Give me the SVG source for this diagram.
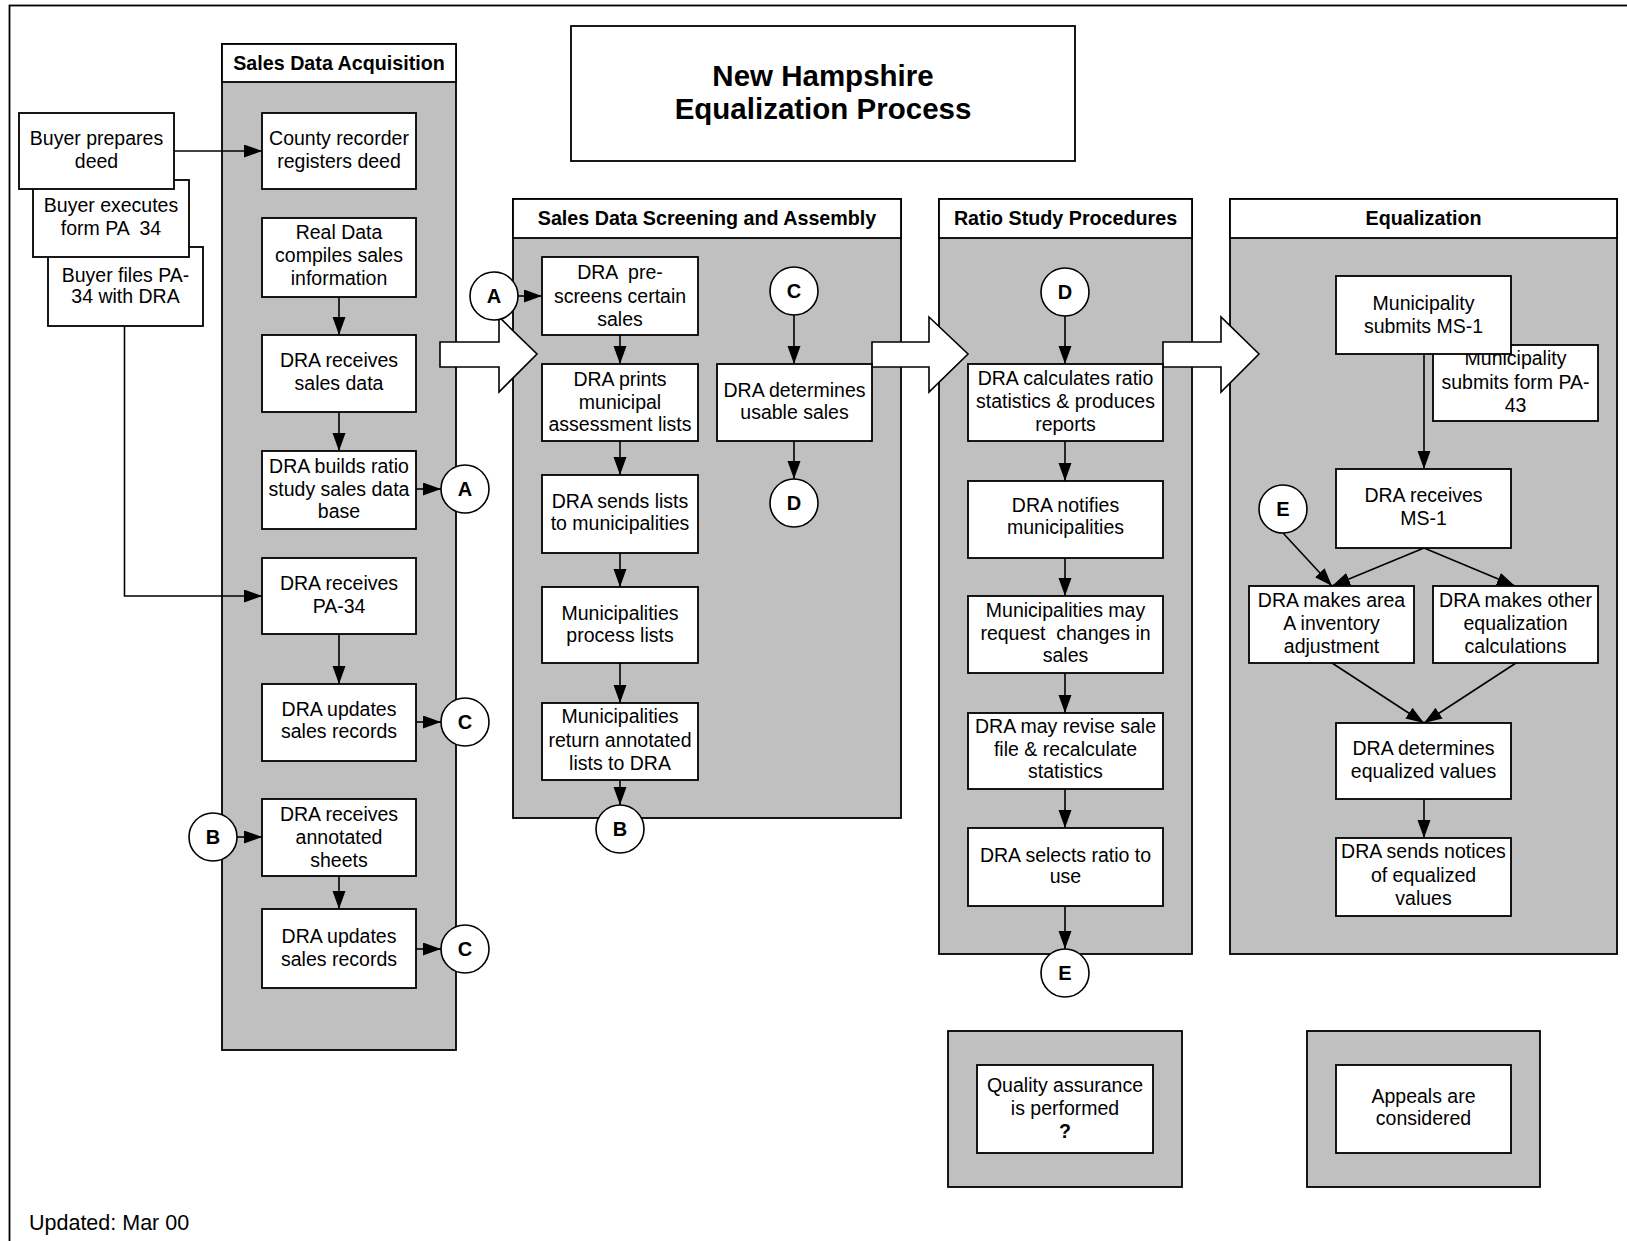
<svg xmlns="http://www.w3.org/2000/svg" width="1627" height="1241" viewBox="0 0 1627 1241">
<defs>
<style>
text{font-family:"Liberation Sans",Arial,sans-serif;fill:#000}
.t{font-size:19.5px;text-anchor:middle}
.h{font-size:19.7px;font-weight:bold;text-anchor:middle}
.c{font-size:20px;font-weight:bold;text-anchor:middle}
.box{fill:#fff;stroke:#000;stroke-width:1.8}
.lane{fill:#c0c0c0;stroke:#000;stroke-width:1.8}
.hdr{fill:#fff;stroke:#000;stroke-width:1.8}
.conn{fill:none;stroke:#000;stroke-width:1.6}
.circ{fill:#fff;stroke:#000;stroke-width:1.6}
.blk{fill:#fff;stroke:#000;stroke-width:1.6}
</style>
<marker id="ah" markerUnits="userSpaceOnUse" markerWidth="19" markerHeight="14" refX="18" refY="6.5" orient="auto">
<path d="M0,0 L18,6.5 L0,13 z" fill="#000"/>
</marker>
</defs>
<rect x="0" y="0" width="1627" height="1241" fill="#fff"/>
<rect x="9.5" y="5.5" width="1700" height="1300" fill="none" stroke="#000" stroke-width="1.8"/>

<g id="title">
<rect class="box" x="571" y="26" width="504" height="135"/>
<text x="823" y="86" font-size="29.5" font-weight="bold" text-anchor="middle">New Hampshire</text>
<text x="823" y="119" font-size="29.5" font-weight="bold" text-anchor="middle">Equalization Process</text>
</g>

<g id="lane-acquisition">
<rect class="lane" x="222" y="44" width="234" height="1006"/>
<rect class="hdr" x="222" y="44" width="234" height="38"/>
<text class="h" x="339" y="70">Sales Data Acquisition</text>
</g>
<g id="lane-screening">
<rect class="lane" x="513" y="199" width="388" height="619"/>
<rect class="hdr" x="513" y="199" width="388" height="39"/>
<text class="h" x="707" y="225">Sales Data Screening and Assembly</text>
</g>
<g id="lane-ratio">
<rect class="lane" x="939" y="199" width="253" height="755"/>
<rect class="hdr" x="939" y="199" width="253" height="39"/>
<text class="h" x="1065.5" y="225">Ratio Study Procedures</text>
</g>
<g id="lane-equalization">
<rect class="lane" x="1230" y="199" width="387" height="755"/>
<rect class="hdr" x="1230" y="199" width="387" height="39"/>
<text class="h" x="1423.5" y="225">Equalization</text>
</g>
<g id="lane-qa">
<rect class="lane" x="948" y="1031" width="234" height="156"/>
</g>
<g id="lane-appeals">
<rect class="lane" x="1307" y="1031" width="233" height="156"/>
</g>

<g id="block-arrows">
<polygon class="blk" points="440,342 499,342 499,317 537,354 499,392 499,367 440,367"/>
<polygon class="blk" points="872,342 929,342 929,317 968,354 929,392 929,367 872,367"/>
<polygon class="blk" points="1163,342 1221,342 1221,317 1259,354 1221,392 1221,367 1163,367"/>
</g>

<g id="connectors">
<path class="conn" d="M174,151 H262" marker-end="url(#ah)"/>
<path class="conn" d="M339,297 V335" marker-end="url(#ah)"/>
<path class="conn" d="M339,412 V451" marker-end="url(#ah)"/>
<path class="conn" d="M416,489 H441" marker-end="url(#ah)"/>
<path class="conn" d="M124.5,326 V596 H262" marker-end="url(#ah)"/>
<path class="conn" d="M339,634 V684" marker-end="url(#ah)"/>
<path class="conn" d="M416,722 H441" marker-end="url(#ah)"/>
<path class="conn" d="M237,837 H262" marker-end="url(#ah)"/>
<path class="conn" d="M339,876 V909" marker-end="url(#ah)"/>
<path class="conn" d="M416,949 H441" marker-end="url(#ah)"/>
<path class="conn" d="M518,296 H542" marker-end="url(#ah)"/>
<path class="conn" d="M620,335 V364" marker-end="url(#ah)"/>
<path class="conn" d="M620,441 V475" marker-end="url(#ah)"/>
<path class="conn" d="M620,553 V587" marker-end="url(#ah)"/>
<path class="conn" d="M620,663 V703" marker-end="url(#ah)"/>
<path class="conn" d="M620,780 V805" marker-end="url(#ah)"/>
<path class="conn" d="M794,315 V364" marker-end="url(#ah)"/>
<path class="conn" d="M794,441 V479" marker-end="url(#ah)"/>
<path class="conn" d="M1065,316 V364" marker-end="url(#ah)"/>
<path class="conn" d="M1065,441 V481" marker-end="url(#ah)"/>
<path class="conn" d="M1065,558 V596" marker-end="url(#ah)"/>
<path class="conn" d="M1065,673 V713" marker-end="url(#ah)"/>
<path class="conn" d="M1065,789 V828" marker-end="url(#ah)"/>
<path class="conn" d="M1065,906 V949" marker-end="url(#ah)"/>
<path class="conn" d="M1424,354 V469" marker-end="url(#ah)"/>
<path class="conn" d="M1283,533 L1332,586" marker-end="url(#ah)"/>
<path class="conn" d="M1424,548 L1332,586" marker-end="url(#ah)"/>
<path class="conn" d="M1424,548 L1515,586" marker-end="url(#ah)"/>
<path class="conn" d="M1332,663 L1424,723" marker-end="url(#ah)"/>
<path class="conn" d="M1516,663 L1424,723" marker-end="url(#ah)"/>
<path class="conn" d="M1424,799 V838" marker-end="url(#ah)"/>
</g>

<g id="n-buyer-files"><rect class="box" x="48" y="247" width="155" height="79"/><text class="t" x="125.5" y="282">Buyer files PA-</text><text class="t" x="125.5" y="303">34 with DRA</text></g>
<g id="n-buyer-executes"><rect class="box" x="33" y="180" width="156" height="77"/><text class="t" x="111" y="212">Buyer executes</text><text class="t" x="111" y="235" xml:space="preserve">form PA  34</text></g>
<g id="n-buyer-prepares"><rect class="box" x="19" y="113" width="155" height="76"/><text class="t" x="96.5" y="145">Buyer prepares</text><text class="t" x="96.5" y="168">deed</text></g>
<g id="n-county"><rect class="box" x="262" y="113" width="154" height="76"/><text class="t" x="339" y="145">County recorder</text><text class="t" x="339" y="168">registers deed</text></g>
<g id="n-realdata"><rect class="box" x="262" y="218" width="154" height="79"/><text class="t" x="339" y="239">Real Data</text><text class="t" x="339" y="262">compiles sales</text><text class="t" x="339" y="285">information</text></g>
<g id="n-recv-sales"><rect class="box" x="262" y="335" width="154" height="77"/><text class="t" x="339" y="367">DRA receives</text><text class="t" x="339" y="390">sales data</text></g>
<g id="n-builds"><rect class="box" x="262" y="451" width="154" height="78"/><text class="t" x="339" y="473">DRA builds ratio</text><text class="t" x="339" y="496">study sales data</text><text class="t" x="339" y="518">base</text></g>
<g id="n-recv-pa34"><rect class="box" x="262" y="558" width="154" height="76"/><text class="t" x="339" y="590">DRA receives</text><text class="t" x="339" y="613">PA-34</text></g>
<g id="n-updates-1"><rect class="box" x="262" y="684" width="154" height="77"/><text class="t" x="339" y="716">DRA updates</text><text class="t" x="339" y="738">sales records</text></g>
<g id="n-recv-annotated"><rect class="box" x="262" y="799" width="154" height="77"/><text class="t" x="339" y="821">DRA receives</text><text class="t" x="339" y="844">annotated</text><text class="t" x="339" y="867">sheets</text></g>
<g id="n-updates-2"><rect class="box" x="262" y="909" width="154" height="79"/><text class="t" x="339" y="943">DRA updates</text><text class="t" x="339" y="966">sales records</text></g>

<g id="n-prescreen"><rect class="box" x="542" y="257" width="156" height="78"/><text class="t" x="620" y="279" xml:space="preserve">DRA  pre-</text><text class="t" x="620" y="303">screens certain</text><text class="t" x="620" y="326">sales</text></g>
<g id="n-prints"><rect class="box" x="542" y="364" width="156" height="77"/><text class="t" x="620" y="386">DRA prints</text><text class="t" x="620" y="409">municipal</text><text class="t" x="620" y="431">assessment lists</text></g>
<g id="n-sends-lists"><rect class="box" x="542" y="475" width="156" height="78"/><text class="t" x="620" y="508">DRA sends lists</text><text class="t" x="620" y="530">to municipalities</text></g>
<g id="n-process"><rect class="box" x="542" y="587" width="156" height="76"/><text class="t" x="620" y="620">Municipalities</text><text class="t" x="620" y="642">process lists</text></g>
<g id="n-return"><rect class="box" x="542" y="703" width="156" height="77"/><text class="t" x="620" y="723">Municipalities</text><text class="t" x="620" y="747">return annotated</text><text class="t" x="620" y="770">lists to DRA</text></g>
<g id="n-usable"><rect class="box" x="717" y="364" width="155" height="77"/><text class="t" x="794.5" y="397">DRA determines</text><text class="t" x="794.5" y="419">usable sales</text></g>

<g id="n-calc"><rect class="box" x="968" y="364" width="195" height="77"/><text class="t" x="1065.5" y="385">DRA calculates ratio</text><text class="t" x="1065.5" y="408">statistics &amp; produces</text><text class="t" x="1065.5" y="431">reports</text></g>
<g id="n-notify"><rect class="box" x="968" y="481" width="195" height="77"/><text class="t" x="1065.5" y="512">DRA notifies</text><text class="t" x="1065.5" y="534">municipalities</text></g>
<g id="n-request"><rect class="box" x="968" y="596" width="195" height="77"/><text class="t" x="1065.5" y="617">Municipalities may</text><text class="t" x="1065.5" y="640" xml:space="preserve">request  changes in</text><text class="t" x="1065.5" y="662">sales</text></g>
<g id="n-revise"><rect class="box" x="968" y="713" width="195" height="76"/><text class="t" x="1065.5" y="733">DRA may revise sale</text><text class="t" x="1065.5" y="756">file &amp; recalculate</text><text class="t" x="1065.5" y="778">statistics</text></g>
<g id="n-select"><rect class="box" x="968" y="828" width="195" height="78"/><text class="t" x="1065.5" y="862">DRA selects ratio to</text><text class="t" x="1065.5" y="883">use</text></g>

<g id="n-pa43"><rect class="box" x="1433" y="345" width="165" height="76"/><text class="t" x="1515.5" y="365">Municipality</text><text class="t" x="1515.5" y="389">submits form PA-</text><text class="t" x="1515.5" y="412">43</text></g>
<g id="n-ms1"><rect class="box" x="1336" y="276" width="175" height="78"/><text class="t" x="1423.5" y="310">Municipality</text><text class="t" x="1423.5" y="333">submits MS-1</text></g>
<g id="n-recv-ms1"><rect class="box" x="1336" y="469" width="175" height="79"/><text class="t" x="1423.5" y="502">DRA receives</text><text class="t" x="1423.5" y="525">MS-1</text></g>
<g id="n-area"><rect class="box" x="1249" y="586" width="165" height="77"/><text class="t" x="1331.5" y="607">DRA makes area</text><text class="t" x="1331.5" y="630">A inventory</text><text class="t" x="1331.5" y="653">adjustment</text></g>
<g id="n-other"><rect class="box" x="1433" y="586" width="165" height="77"/><text class="t" x="1515.5" y="607">DRA makes other</text><text class="t" x="1515.5" y="630">equalization</text><text class="t" x="1515.5" y="653">calculations</text></g>
<g id="n-eqvalues"><rect class="box" x="1336" y="723" width="175" height="76"/><text class="t" x="1423.5" y="755">DRA determines</text><text class="t" x="1423.5" y="778">equalized values</text></g>
<g id="n-notices"><rect class="box" x="1336" y="838" width="175" height="78"/><text class="t" x="1423.5" y="858">DRA sends notices</text><text class="t" x="1423.5" y="882">of equalized</text><text class="t" x="1423.5" y="905">values</text></g>

<g id="n-qa"><rect class="box" x="977" y="1065" width="176" height="88"/><text class="t" x="1065" y="1092">Quality assurance</text><text class="t" x="1065" y="1115">is performed</text><text class="t" x="1065" y="1138" font-weight="bold">?</text></g>
<g id="n-appeals"><rect class="box" x="1336" y="1065" width="175" height="88"/><text class="t" x="1423.5" y="1103">Appeals are</text><text class="t" x="1423.5" y="1125">considered</text></g>

<g id="c-A1"><circle class="circ" cx="465" cy="489" r="24"/><text class="c" x="465" y="496">A</text></g>
<g id="c-C1"><circle class="circ" cx="465" cy="722" r="24"/><text class="c" x="465" y="729">C</text></g>
<g id="c-B1"><circle class="circ" cx="213" cy="837" r="24"/><text class="c" x="213" y="844">B</text></g>
<g id="c-C2"><circle class="circ" cx="465" cy="949" r="24"/><text class="c" x="465" y="956">C</text></g>
<g id="c-A2"><circle class="circ" cx="494" cy="296" r="24"/><text class="c" x="494" y="303">A</text></g>
<g id="c-B2"><circle class="circ" cx="620" cy="829" r="24"/><text class="c" x="620" y="836">B</text></g>
<g id="c-C3"><circle class="circ" cx="794" cy="291" r="24"/><text class="c" x="794" y="298">C</text></g>
<g id="c-D1"><circle class="circ" cx="794" cy="503" r="24"/><text class="c" x="794" y="510">D</text></g>
<g id="c-D2"><circle class="circ" cx="1065" cy="292" r="24"/><text class="c" x="1065" y="299">D</text></g>
<g id="c-E1"><circle class="circ" cx="1065" cy="973" r="24"/><text class="c" x="1065" y="980">E</text></g>
<g id="c-E2"><circle class="circ" cx="1283" cy="509" r="24"/><text class="c" x="1283" y="516">E</text></g>

<text x="29" y="1230" font-size="21.5">Updated: Mar 00</text>
</svg>
